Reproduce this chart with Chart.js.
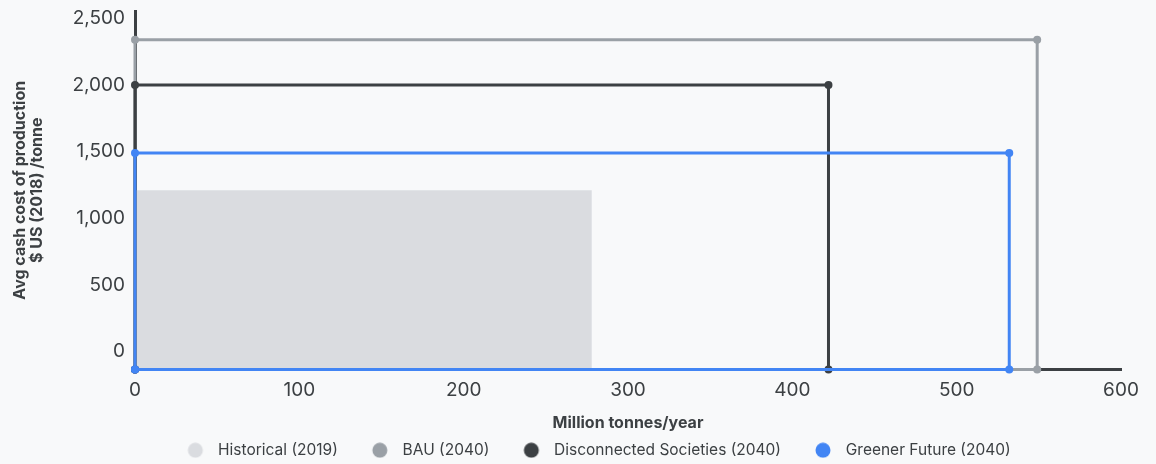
<!DOCTYPE html>
<html lang="en">
<head>
    <meta charset="UTF-8">
    <title>Cash cost curve</title>
    <script src="https://cdn.jsdelivr.net/npm/chart.js"></script>
    <style>
        html, body {
            margin: 0;
            padding: 0;
            background: #f8f9fa;
        }
        canvas { display: block; }
    </style>
</head>
<body>
    <canvas id="costChart" width="1156" height="464"></canvas>

    <script>
        // scenario data: supply (million tonnes/year) and avg cash cost ($/t)
        const scenarioNames = ['Historical (2019)', 'BAU (2040)', 'Disconnected Societies (2040)', 'Greener Future (2040)'];
        const supply = [278, 549, 422, 532];
        const cashCost = [1210, 2340, 2000, 1490];
        const colors = ['#dadce0', '#9aa0a6', '#3c4043', '#4285f4'];

        const xTicks = [0, 100, 200, 300, 400, 500, 600];
        const yTicks = [0, 500, 1000, 1500, 2000, 2500];

        const Y_MIN = -135;   // axis floor, the boxes close along it
        const Y_MAX = 2555;
        const TEXT = '#3c4043';
        const FONT = 'Inter, "Noto Sans", sans-serif';

        // outline of one scenario: up the y axis, across, down, back along the floor
        function outline(i) {
            return [
                {x: 0, y: Y_MIN},
                {x: 0, y: cashCost[i]},
                {x: supply[i], y: cashCost[i]},
                {x: supply[i], y: Y_MIN},
                {x: 0, y: Y_MIN}
            ];
        }

        // legend marker: a dot with some blank space on its left
        function legendDot(color) {
            const c = document.createElement('canvas');
            c.width = 48;
            c.height = 16;
            const g = c.getContext('2d');
            g.fillStyle = color;
            g.beginPath();
            g.arc(33, 8, 7.5, 0, Math.PI * 2);
            g.fill();
            return c;
        }

        const datasets = [{
            label: scenarioNames[0],
            data: [{x: 0, y: cashCost[0]}, {x: supply[0], y: cashCost[0]}],
            showLine: true,
            fill: 'start',
            backgroundColor: colors[0],
            borderColor: 'rgba(0,0,0,0)',
            borderWidth: 0,
            pointRadius: 0,
            order: 3
        }];
        for (let i = 1; i < scenarioNames.length; i++) {
            datasets.push({
                label: scenarioNames[i],
                data: outline(i),
                showLine: true,
                fill: false,
                borderColor: colors[i],
                backgroundColor: colors[i],
                borderWidth: 3,
                pointRadius: 4,
                pointBorderWidth: 0,
                clip: false,
                order: 3 - i   // later scenarios sit on top
            });
        }

        // push the legend row a little right and down
        const legendNudge = {
            id: 'legendNudge',
            afterLayout(chart) {
                const lg = chart.legend;
                lg.left += 26;
                lg.right += 26;
                lg.top += 4;
                lg.bottom += 4;
            }
        };

        new Chart(document.getElementById('costChart'), {
            type: 'scatter',
            data: { datasets: datasets },
            plugins: [legendNudge],
            options: {
                responsive: false,
                animation: false,
                events: [],
                layout: { padding: { top: 11, right: 35, left: 0, bottom: 0 } },
                plugins: {
                    tooltip: { enabled: false },
                    legend: {
                        position: 'bottom',
                        labels: {
                            usePointStyle: true,
                            pointStyleWidth: 48,
                            boxHeight: 15,
                            padding: 9,
                            color: TEXT,
                            font: { family: FONT, size: 15.5 },
                            sort: (a, b) => a.datasetIndex - b.datasetIndex,
                            generateLabels: chart => chart.data.datasets.map((ds, i) => ({
                                text: ds.label,
                                datasetIndex: i,
                                pointStyle: legendDot(colors[i]),
                                fillStyle: colors[i],
                                strokeStyle: colors[i],
                                lineWidth: 0,
                                fontColor: TEXT,
                                hidden: false
                            }))
                        }
                    }
                },
                scales: {
                    x: {
                        type: 'linear',
                        min: 0,
                        max: 600,
                        afterBuildTicks: s => { s.ticks = xTicks.map(v => ({value: v})); },
                        afterFit: s => { s.height = 60; },
                        grid: { display: false, drawTicks: false },
                        border: { color: TEXT, width: 3 },
                        ticks: {
                            color: TEXT,
                            font: { family: FONT, size: 19 },
                            padding: 9,
                            maxRotation: 0
                        },
                        title: {
                            display: true,
                            text: 'Million tonnes/year',
                            color: TEXT,
                            font: { family: FONT, size: 16, weight: 'bold', lineHeight: 0.75 },
                            padding: { top: 0, bottom: 0 }
                        }
                    },
                    y: {
                        type: 'linear',
                        min: Y_MIN,
                        max: Y_MAX,
                        afterBuildTicks: s => { s.ticks = yTicks.map(v => ({value: v})); },
                        afterFit: s => {
                            s.width = 135;
                            s.paddingTop = 0;
                            s.paddingBottom = 0;
                        },
                        grid: { display: false, drawTicks: false },
                        border: { color: TEXT, width: 3 },
                        ticks: {
                            color: TEXT,
                            font: { family: FONT, size: 19 },
                            padding: 10
                        },
                        title: {
                            display: true,
                            text: ['Avg cash cost of production', '$ US (2018) /tonne'],
                            color: TEXT,
                            font: { family: FONT, size: 16, weight: 'bold', lineHeight: 1.1 },
                            padding: { top: 11, bottom: 0 }
                        }
                    }
                }
            }
        });
    </script>
</body>
</html>
